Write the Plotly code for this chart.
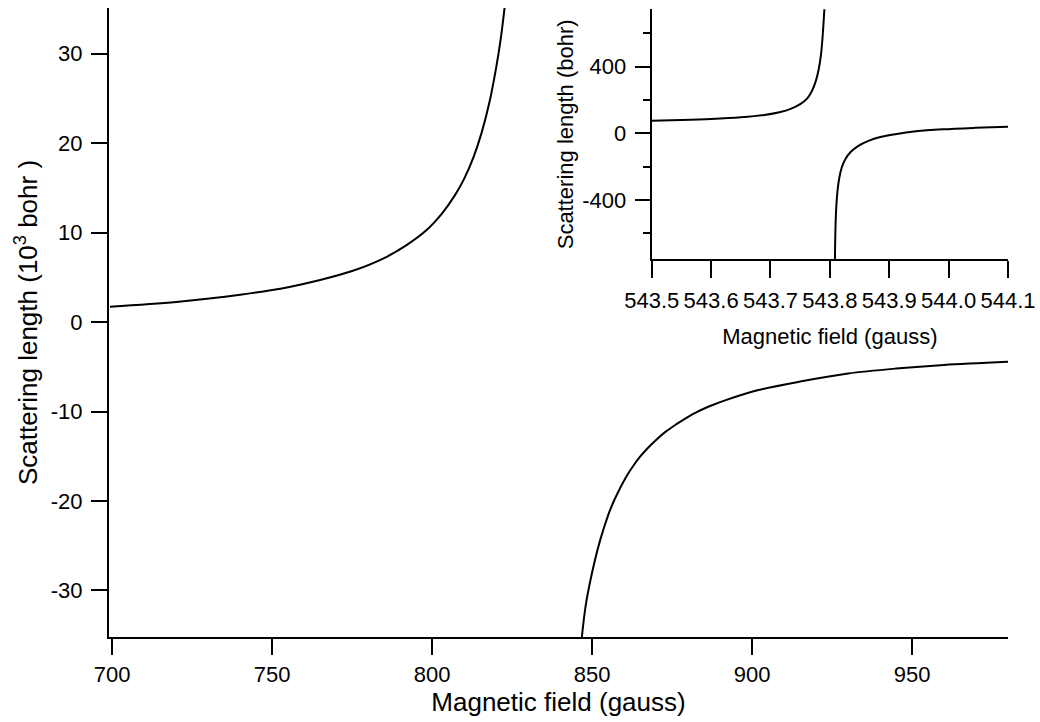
import plotly.graph_objects as go

# ---- Main plot data (magnetic field in gauss, scattering length in 10^3 bohr) ----
main_upper_field = [699.3, 720, 740, 755, 765, 775, 785, 792, 798, 803, 807,
                    810, 813, 815.5, 818, 820, 821.5, 822.7]
main_upper_a = [1.72, 2.25, 3.05, 3.9, 4.7, 5.7, 7.15, 8.6, 10.2, 12.1, 14.1,
                16.0, 18.5, 21.2, 24.7, 28.4, 31.8, 35.3]

main_lower_field = [846.8, 848.0, 850.0, 852.5, 855.0, 856.5, 858.0, 861.0, 863.0,
                    865.0, 867.5, 870.0, 873.0, 876.0, 879.5, 883.0, 887.5, 892.0,
                    902.0, 915.0, 930.0, 945.0, 960.0, 980.0]
main_lower_a = [-35.2, -31.7, -28.0, -24.4, -21.6, -20.25, -19.1, -17.1, -16.0,
                -15.05, -14.05, -13.17, -12.25, -11.5, -10.7, -10.0, -9.3, -8.7,
                -7.6, -6.65, -5.75, -5.2, -4.8, -4.45]

main_xticks = [700, 750, 800, 850, 900, 950]
main_xticktext = ["700", "750", "800", "850", "900", "950"]
main_yticks = [-30, -20, -10, 0, 10, 20, 30]
main_yticktext = ["-30", "-20", "-10", "0", "10", "20", "30"]

# ---- Inset data (magnetic field in gauss, scattering length in bohr) ----
inset_upper_field = [543.500, 543.550, 543.600, 543.650, 543.690, 543.715, 543.735,
                     543.750, 543.762, 543.770, 543.776, 543.781, 543.785, 543.788,
                     543.791]
inset_upper_a = [76, 80, 86, 96, 110, 126, 148, 175, 210, 255, 310, 380, 470, 590, 760]

inset_lower_field = [543.8085, 543.8095, 543.8110, 543.8130, 543.8160, 543.8200,
                     543.8260, 543.8350, 543.8480, 543.8650, 543.8850, 543.9100,
                     543.9450, 543.9900, 544.0450, 544.1000]
inset_lower_a = [-770, -560, -430, -340, -265, -205, -155, -112, -75, -45, -22, -5,
                 12, 24, 33, 40]

inset_xticks = [543.5, 543.6, 543.7, 543.8, 543.9, 544.0, 544.1]
inset_xticktext = ["543.5", "543.6", "543.7", "543.8", "543.9", "544.0", "544.1"]
inset_yticks = [-400, 0, 400]
inset_yticktext = ["-400", "0", "400"]
inset_yminor = [-600, -200, 200, 600]

FONT = "Liberation Sans, Arial, Helvetica, sans-serif"
line_style = dict(color="black", width=2, shape="spline", smoothing=0.9)

fig = go.Figure()
fig.add_trace(go.Scatter(x=main_upper_field, y=main_upper_a, mode="lines",
                         line=line_style, xaxis="x", yaxis="y", showlegend=False))
fig.add_trace(go.Scatter(x=main_lower_field, y=main_lower_a, mode="lines",
                         line=line_style, xaxis="x", yaxis="y", showlegend=False))
fig.add_trace(go.Scatter(x=inset_upper_field, y=inset_upper_a, mode="lines",
                         line=line_style, xaxis="x2", yaxis="y2", showlegend=False))
fig.add_trace(go.Scatter(x=inset_lower_field, y=inset_lower_a, mode="lines",
                         line=line_style, xaxis="x2", yaxis="y2", showlegend=False))

axis_common = dict(showline=True, linecolor="black", linewidth=2, showgrid=False,
                   zeroline=False, ticks="outside", tickcolor="black", tickwidth=2,
                   tickangle=0, automargin=False)

fig.update_layout(
    width=1040, height=722,
    margin=dict(l=109, r=32, t=8, b=85),
    paper_bgcolor="white", plot_bgcolor="rgba(0,0,0,0)",
    font=dict(family=FONT, color="black"),
    xaxis=dict(axis_common, domain=[0, 1], range=[699, 980], anchor="y",
               tickmode="array", tickvals=main_xticks, ticktext=main_xticktext,
               ticklen=16, tickfont=dict(size=22), ticklabelstandoff=1,
               title=dict(text="Magnetic field (gauss)", font=dict(size=26), standoff=4)),
    yaxis=dict(axis_common, domain=[0, 1], range=[-35.2, 35.1], anchor="x",
               tickmode="array", tickvals=main_yticks, ticktext=main_yticktext,
               ticklen=16, tickfont=dict(size=22), ticklabelstandoff=4,
               title=dict(text="Scattering length (10<sup>3</sup> bohr )",
                          font=dict(size=26), standoff=6)),
    xaxis2=dict(axis_common, domain=[0.6037, 1.0], range=[543.5, 544.1], anchor="y2",
                tickmode="array", tickvals=inset_xticks, ticktext=inset_xticktext,
                ticklen=17, tickfont=dict(size=22), ticklabelstandoff=3,
                title=dict(text="Magnetic field (gauss)", font=dict(size=22), standoff=17)),
    yaxis2=dict(axis_common, domain=[0.6003, 0.998], range=[-756, 744], anchor="x2",
                tickmode="array", tickvals=inset_yticks, ticktext=inset_yticktext,
                ticklen=15, tickfont=dict(size=22), ticklabelstandoff=4,
                minor=dict(tickmode="array", tickvals=inset_yminor, ticks="outside",
                           ticklen=7, tickwidth=2, tickcolor="black", showgrid=False),
                title=dict(text="Scattering length (bohr)", font=dict(size=22), standoff=3)),
)

fig.write_html("out.html")
